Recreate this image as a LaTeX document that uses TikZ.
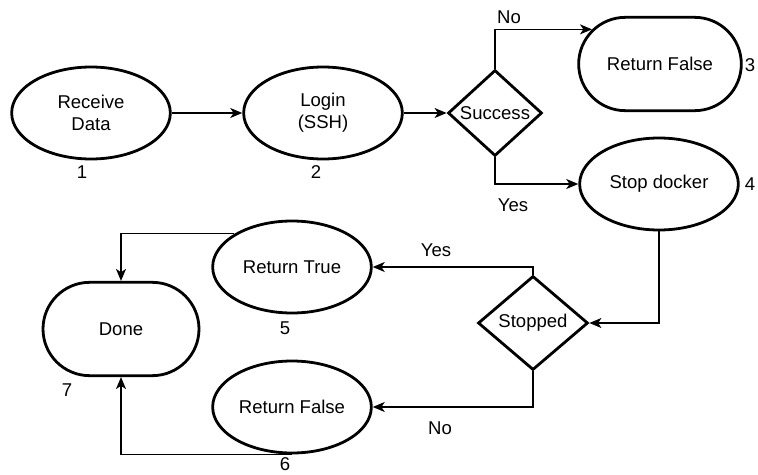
\documentclass[tikz,border=0pt]{standalone}
\usepackage{fontspec}
\setmainfont{Liberation Sans}
\usetikzlibrary{shapes.geometric,shapes.misc,arrows.meta}
\tikzset{
  proc/.style={draw,ellipse,line width=2.1pt,inner sep=0pt,align=center,
    minimum width=119pt,minimum height=69pt},
  term/.style={draw,rounded rectangle,line width=2.1pt,inner sep=0pt,
    minimum width=122pt,minimum height=70pt},
  decide/.style={draw,diamond,line width=2.1pt,inner sep=0pt},
  num/.style={inner sep=1pt},
  conn/.style={-{Stealth[length=9pt,width=7.5pt,inset=2.5pt]},line width=0.9pt}
}
\begin{document}
\begin{tikzpicture}[x=0.75pt,y=-0.75pt,font=\fontsize{13.9}{16.5}\selectfont]
  \useasboundingbox (0,0) rectangle (758,475);

  \node[proc] (recv) at (91,113) {Receive\\Data};
  \node[proc] (login) at (323,113) {Login\\(SSH)};
  \node[decide,minimum width=70.5pt,minimum height=64.5pt] (success) at (495,113) {Success};
  \node[term] (rfalse) at (660,64) {Return False};
  \node[proc] (stop) at (659,184) {Stop docker};
  \node[decide,minimum width=82.5pt,minimum height=70.5pt] (stopped) at (533,323) {Stopped};
  \node[proc] (rtrue) at (292,267) {Return True};
  \node[proc] (rfalsetwo) at (292,407) {Return False};
  \node[term,minimum width=117pt] (done) at (121,329) {Done};

  \node[num] (n1) at (82,172) {1};
  \node[num] (n2) at (316,172) {2};
  \node[num] (n3) at (750,65) {3};
  \node[num] (n4) at (750,184) {4};
  \node[num] (n5) at (285,328) {5};
  \node[num] (n6) at (285,464) {6};
  \node[num] (n7) at (67,390) {7};

  \draw[conn] (recv) -- (login);
  \draw[conn] (login) -- (success);
  \draw[conn] (success.north) |- (rfalse.153);
  \draw[conn] (success.south) |- (stop.west);
  \draw[conn] (stop.south) |- (stopped.east);
  \draw[conn] (stopped.north) |- (rtrue.east);
  \draw[conn] (stopped.south) |- (rfalsetwo.east);
  \draw[conn] (rtrue.150) -| (done.north);
  \draw[conn] (rfalsetwo.south) -| (done.south);

  \node (lno) at (509,17) {No};
  \node (lyes) at (513,205) {Yes};
  \node (lyestwo) at (436,250) {Yes};
  \node (lnotwo) at (440,428) {No};
\end{tikzpicture}
\end{document}
